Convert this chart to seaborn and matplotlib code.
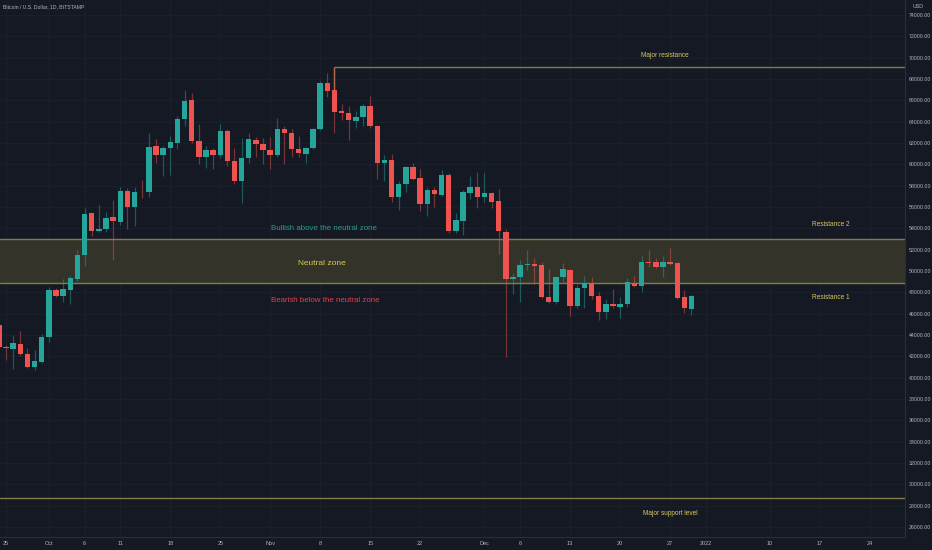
import pandas as pd
import numpy as np
import matplotlib
matplotlib.use("Agg")
import matplotlib.pyplot as plt
import matplotlib.dates as mdates
import seaborn as sns

# ---- data (daily candles, BTC/USD Bitstamp) ----
dates = pd.date_range("2021-09-24", "2021-12-30", freq="D")

opens = [44940, 42900, 42690, 43160, 42190, 41030, 41500,
         43840, 48220, 47660, 48220, 49250, 51500, 55410, 53750, 53940, 55030,
         54620, 57500, 55970, 57440, 57380, 61720, 60880, 61500, 62030, 64250,
         66030, 62220, 60690, 61340, 60880, 63130, 60310, 58470, 60560, 62280, 61910,
         61340, 60880, 63280, 62970, 61440, 60970, 61500, 63280, 67590, 66970,
         65000, 64840, 64090, 64410, 65500, 63620, 60160, 60410, 56910, 58130,
         59780, 58690, 56280, 57590, 57160, 59000, 53780, 54720, 57280, 57840,
         56970, 57280, 56560, 53690, 49220, 49470, 50530, 50620, 50530, 47590,
         47120, 49410, 50090, 46720, 48380, 48910, 47660, 46130, 46880, 46660,
         46880, 48910, 48630, 50880, 50840, 50410, 50880, 50720, 47590, 46440]
highs = [45050, 43060, 44000, 44400, 42810, 42600, 44090,
         48530, 48440, 49220, 49530, 51970, 55880, 55470, 56190, 55560, 56660,
         57840, 57750, 57840, 58530, 62910, 62340, 61720, 62660, 64530, 66970,
         66660, 63780, 61750, 61500, 63750, 63280, 61500, 62500, 62970, 62530, 62440,
         62530, 64310, 63590, 63310, 62660, 61600, 63380, 67840, 68590, 69090,
         65660, 65500, 65030, 65660, 66410, 63700, 60880, 60970, 58440, 59840,
         60090, 59530, 57910, 57910, 59470, 59220, 55410, 57590, 58940, 59250,
         59160, 57440, 57660, 53910, 49840, 51030, 51970, 51250, 50840, 50160,
         49500, 50780, 50200, 48690, 49530, 49470, 48000, 47340, 48310, 47530,
         49380, 49560, 51410, 51970, 51190, 51410, 52120, 50800, 48220, 47750]
lows = [42600, 41660, 40810, 42060, 40900, 40720, 41400,
        43370, 47530, 47120, 46900, 49100, 50470, 53280, 53690, 53690, 51030,
        54310, 53940, 54250, 56810, 56910, 60160, 58940, 59000, 61410, 63590,
        61970, 60000, 59690, 59530, 60560, 59840, 58130, 56410, 60090, 60660, 60000,
        59530, 60660, 60030, 60720, 60720, 60090, 61400, 63200, 66280, 62910,
        64160, 62280, 63380, 63620, 63380, 58590, 58470, 56470, 55720, 57440,
        58500, 55660, 55190, 55970, 57000, 53590, 53590, 53380, 56750, 55940,
        56500, 55880, 51560, 41970, 47840, 47120, 50090, 48750, 47500, 47000,
        46880, 48970, 45780, 46500, 46500, 47400, 45410, 45500, 46500, 45620,
        46660, 48470, 48060, 50410, 50250, 49470, 50560, 47340, 46090, 45880]
closes = [42880, 42750, 43220, 42190, 41030, 41560, 43840,
          48220, 47660, 48280, 49310, 51500, 55340, 53750, 53940, 55000, 54720,
          57500, 55970, 57410, 57380, 61660, 60880, 61560, 62060, 64250, 65970,
          62220, 60690, 61340, 60900, 63130, 60310, 58470, 60620, 62340, 61910, 61340,
          60880, 63280, 62910, 61440, 61030, 61560, 63310, 67590, 66910, 64940,
          64840, 64160, 64470, 65500, 63620, 60160, 60410, 56910, 58160, 59780,
          58630, 56280, 57590, 57190, 59000, 53780, 54780, 57380, 57840, 56970,
          57280, 56500, 53750, 49220, 49470, 50560, 50620, 50500, 47590, 47120,
          49400, 50160, 46720, 48380, 48910, 47660, 46190, 46880, 46720, 46880,
          48940, 48630, 50880, 50780, 50410, 50810, 50660, 47500, 46500, 47690]

# levels drawn on the chart
neutral_low, neutral_high = 48840, 52970
major_resistance = 69120
major_support = 28690

tick_dates = ["2021-09-25", "2021-10-01", "2021-10-06", "2021-10-11", "2021-10-18",
              "2021-10-25", "2021-11-01", "2021-11-08", "2021-11-15", "2021-11-22",
              "2021-12-01", "2021-12-06", "2021-12-13", "2021-12-20", "2021-12-27",
              "2022-01-01", "2022-01-10", "2022-01-17", "2022-01-24"]
tick_labels = ["25", "Oct", "6", "11", "18", "25", "Nov", "8", "15", "22",
               "Dec", "6", "13", "20", "27", "2022", "10", "17", "24"]

# ---- style ----
bg = "#151924"
grid = "#1a1f2b"
up, down = "#26a69a", "#ef5350"
gold = "#d8c95e"
level_col = "#857c45"

sns.set_theme(style="dark", rc={"axes.facecolor": bg, "figure.facecolor": bg,
                                "grid.color": grid, "axes.edgecolor": "#2a2e39"})
plt.rcParams["font.family"] = ["Liberation Sans", "DejaVu Sans"]

df = pd.DataFrame({"date": dates, "open": opens, "high": highs,
                   "low": lows, "close": closes})
df["x"] = mdates.date2num(df["date"])
df["up"] = df["close"] >= df["open"]

fig = plt.figure(figsize=(9.32, 5.5), dpi=100)
ax = fig.add_axes([0, 13 / 550, 905 / 932, 537 / 550])

x0 = mdates.date2num(pd.Timestamp("2021-09-25"))
ax.set_xlim(x0 - 0.84, x0 + 125.9)
ax.set_ylim(25060, 75410)

# grid
ax.set_yticks(np.arange(26000, 74001, 2000))
ax.set_xticks(mdates.date2num(pd.to_datetime(tick_dates)))
ax.grid(True, color=grid, linewidth=0.8)

# neutral zone + levels
ax.axhspan(neutral_low, neutral_high, color="#34332a", zorder=1, lw=0)
ax.axhline(neutral_low, color=level_col, lw=1, zorder=2)
ax.axhline(neutral_high, color=level_col, lw=1, zorder=2)
ax.axhline(major_support, color=level_col, lw=1, zorder=2)
ax.hlines(major_resistance, mdates.date2num(pd.Timestamp("2021-11-10")),
          x0 + 125.9, color=level_col, lw=1, zorder=2)
ax.vlines(mdates.date2num(pd.Timestamp("2021-11-10")), 66900, major_resistance,
          color=level_col, lw=1, zorder=2)

# candles
for is_up, col in [(True, up), (False, down)]:
    d = df[df["up"] == is_up]
    ax.vlines(d["x"], d["low"], d["high"], color=col, alpha=0.45, lw=0.9, zorder=3)
    body = (d["close"] - d["open"]).abs().clip(lower=60)
    ax.bar(d["x"], body, bottom=d[["open", "close"]].min(axis=1), width=0.76,
           color=col, edgecolor=col, linewidth=0, zorder=4)

# annotations
def dt(s):
    return mdates.date2num(pd.Timestamp(s))

fs = 4.7
ax.text(dt("2021-12-26 08:00"), 70250, "Major resistance", color=gold, fontsize=fs,
        ha="center", va="center", zorder=5)
ax.text(dt("2022-01-18 12:00"), 54400, "Resistance 2", color=gold, fontsize=fs,
        ha="center", va="center", zorder=5)
ax.text(dt("2022-01-18 12:00"), 47470, "Resistance 1", color=gold, fontsize=fs,
        ha="center", va="center", zorder=5)
ax.text(dt("2021-12-27"), 27220, "Major support level", color=gold, fontsize=fs,
        ha="center", va="center", zorder=5)
ax.text(dt("2021-11-08 12:00"), 54030, "Bullish above the neutral zone", color="#2a9d8f",
        fontsize=5.7, ha="center", va="center", zorder=5)
ax.text(dt("2021-11-08 06:00"), 50660, "Neutral zone", color=gold,
        fontsize=6.0, ha="center", va="center", zorder=5)
ax.text(dt("2021-11-08 18:00"), 47190, "Bearish below the neutral zone", color="#e5414a",
        fontsize=5.7, ha="center", va="center", zorder=5)

# axes
ax.yaxis.tick_right()
ax.set_yticklabels([f"{v:.2f}" for v in np.arange(26000, 74001, 2000)])
ax.set_xticklabels(tick_labels)
ax.tick_params(axis="both", length=0, colors="#b2b5be")
ax.tick_params(axis="y", pad=3, labelsize=3.8)
ax.tick_params(axis="x", pad=3, labelsize=4.0)
for s in ["top", "left"]:
    ax.spines[s].set_visible(False)
for s in ["right", "bottom"]:
    ax.spines[s].set_color("#2a2e39")
    ax.spines[s].set_linewidth(0.8)

fig.text(3 / 932, 1 - 7 / 550, "Bitcoin / U.S. Dollar, 1D, BITSTAMP", color="#b2b5be",
         fontsize=3.7, ha="left", va="center")
fig.text(918 / 932, 1 - 7 / 550, "USD", color="#b2b5be", fontsize=3.8,
         ha="center", va="center")

fig.savefig("out.png", dpi=100, facecolor=bg)
